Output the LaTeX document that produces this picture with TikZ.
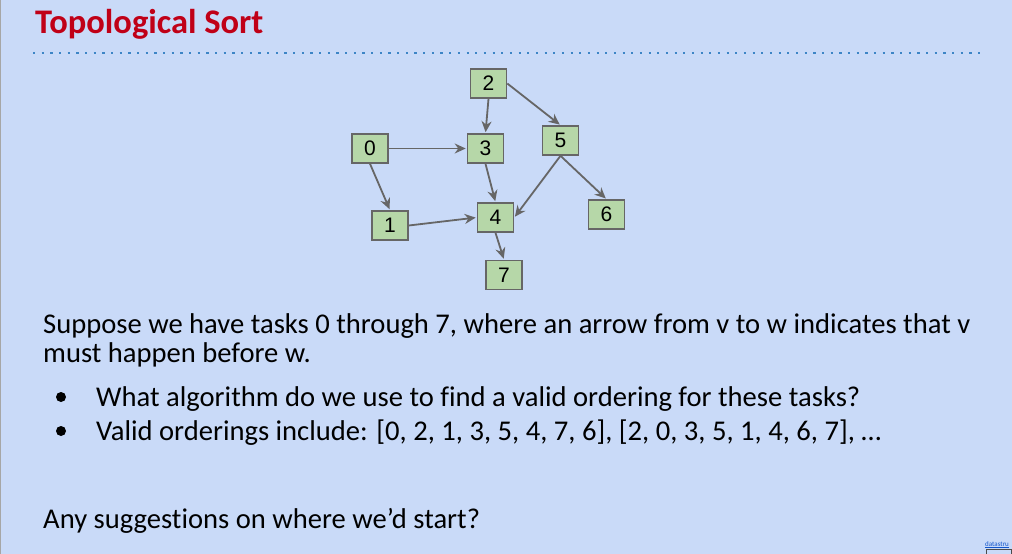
\documentclass[tikz,border=0pt]{standalone}
\usepackage{fontspec}
\setmainfont{Carlito}[Ligatures=NoCommon]
\newfontfamily\nodefont{Liberation Sans}
\usetikzlibrary{arrows.meta}
\definecolor{slidebg}{HTML}{C9DAF8}
\definecolor{titlered}{HTML}{C00017}
\definecolor{ruleblue}{HTML}{3D85C6}
\definecolor{taskfill}{HTML}{B6D7A8}
\definecolor{taskline}{HTML}{666666}
\definecolor{linkblue}{HTML}{1155CC}
\tikzset{
  task/.style={rectangle, draw=taskline, line width=1.6pt, fill=taskfill,
    minimum width=36pt, minimum height=29pt, inner sep=0pt,
    font=\nodefont\fontsize{21}{21}\selectfont},
  dep/.style={draw=taskline, line width=1.8pt, -{Stealth[length=11pt,width=10pt]}, shorten >=1pt},
  bodytext/.style={anchor=base west, inner sep=0pt, font=\fontsize{28.6}{29}\selectfont},
  bulletdot/.style={circle, fill=black, inner sep=0pt, minimum size=10pt}
}
\begin{document}
\begin{tikzpicture}[x=1pt, y=-1pt]
  \useasboundingbox (0,0) rectangle (1012,554);
  \fill[slidebg] (0,0) rectangle (1012,554);
  \draw[gray!70, line width=1pt] (0.5,0) -- (0.5,554);

  % title and dotted rule
  \node[anchor=base west, inner sep=0pt, text=titlered,
        font=\bfseries\fontsize{34.5}{34.5}\selectfont] (title) at (35,33) {Topological Sort};
  \draw[ruleblue, line width=2.2pt, dash pattern=on 2.2pt off 6.47pt] (33,53) -- (982,53);

  % task graph
  \node[task] (n2) at (488.5,83.5) {2};
  \node[task] (n0) at (370,148.5) {0};
  \node[task] (n3) at (485.5,148.5) {3};
  \node[task] (n5) at (560.5,140.5) {5};
  \node[task] (n1) at (390,225.5) {1};
  \node[task] (n4) at (495.5,217.5) {4};
  \node[task] (n6) at (606.5,214.5) {6};
  \node[task] (n7) at (504,275) {7};

  \draw[dep] (n2.south) -- (n3.north);
  \draw[dep] (n2.east) -- (n5.north);
  \draw[dep] (n0.east) -- (n3.west);
  \draw[dep] (n0.south) -- (n1.north);
  \draw[dep] (n3.south) -- (n4.north);
  \draw[dep] (n5.south) -- (n4.east);
  \draw[dep] (n5.south) -- (n6.north);
  \draw[dep] (n1.east) -- (n4.west);
  \draw[dep] (n4.south) -- (n7.north);

  % description
  \node[bodytext] (l1) at (43,333) {Suppose we have tasks 0 through 7, where an arrow from v to w indicates that v};
  \node[bodytext] (l2) at (43,362) {must happen before w.};
  \node[bulletdot] (b1) at (61,397) {};
  \node[bodytext] (l3) at (96,406) {What algorithm do we use to find a valid ordering for these tasks?};
  \node[bulletdot] (b2) at (61,431) {};
  \node[bodytext] (l4) at (96,440) {Valid orderings include: [0, 2, 1, 3, 5, 4, 7, 6], [2, 0, 3, 5, 1, 4, 6, 7], \dots};
  \node[bodytext] (l5) at (43,528) {Any suggestions on where we'd start?};

  % footer link
  \node[anchor=base west, inner sep=0pt, text=linkblue,
        font=\fontsize{7}{7}\selectfont] (link) at (985,546) {\underline{datastru}};
  \draw[black!70, line width=0.6pt] (986,549) rectangle (1011,556);
\end{tikzpicture}
\end{document}
